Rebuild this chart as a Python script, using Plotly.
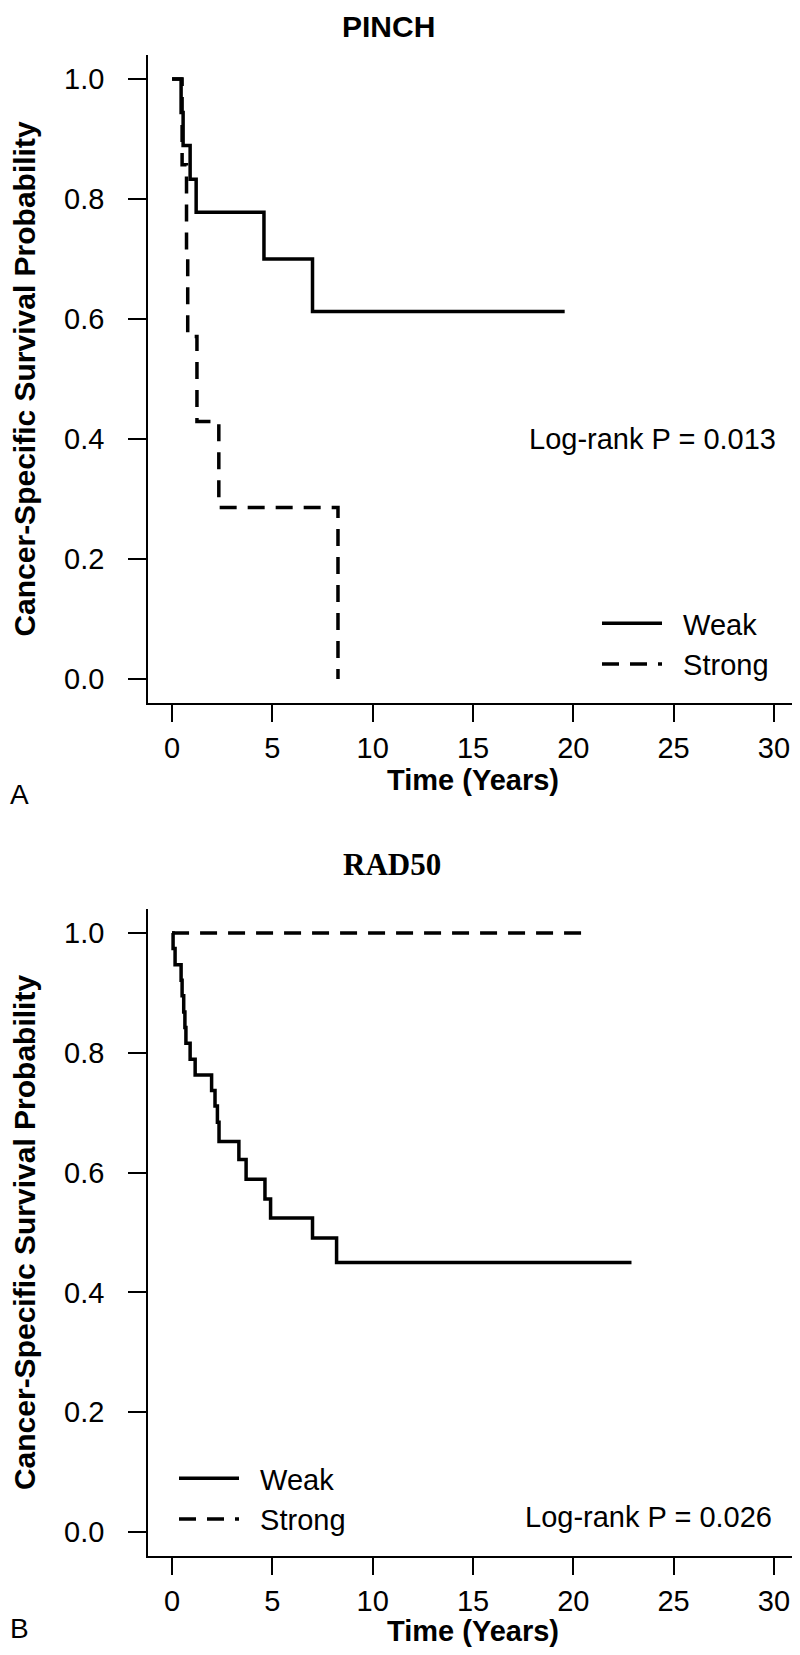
import plotly.graph_objects as go

# ---------------- data ----------------
# Panel A: PINCH
pinch_weak_t = [0.0, 0.45, 0.55, 0.90, 1.20, 4.58, 7.00, 19.57]
pinch_weak_s = [1.0, 0.944, 0.889, 0.833, 0.778, 0.700, 0.6125, 0.6125]
pinch_strong_t = [0.0, 0.50, 0.72, 0.78, 1.24, 2.33, 8.27]
pinch_strong_s = [1.0, 0.857, 0.714, 0.571, 0.429, 0.286, 0.0]
pinch_p = "Log-rank P = 0.013"

# Panel B: RAD50
rad_weak_t = [0.0, 0.05, 0.15, 0.45, 0.50, 0.58, 0.64, 0.69, 0.90, 1.15, 1.97,
              2.14, 2.26, 2.34, 3.33, 3.69, 4.63, 4.91, 7.00, 8.20, 22.9]
rad_weak_s = [1.0, 0.974, 0.947, 0.921, 0.895, 0.868, 0.842, 0.816, 0.789, 0.763, 0.737,
              0.711, 0.684, 0.652, 0.622, 0.589, 0.556, 0.524, 0.491, 0.450, 0.450]
rad_strong_t = [0.0, 20.8]
rad_strong_s = [1.0, 1.0]
rad_p = "Log-rank P = 0.026"

x_ticks = [0, 5, 10, 15, 20, 25, 30]
y_ticks = [0.0, 0.2, 0.4, 0.6, 0.8, 1.0]
y_ticktext = ["0.0", "0.2", "0.4", "0.6", "0.8", "1.0"]
group_names = ["Weak", "Strong"]

# ---------------- figure ----------------
PAGE_W, PAGE_H = 800, 1655
OFF = 8                      # default body margin of the html page
W, H = PAGE_W - OFF, PAGE_H - 2 * OFF
SANS = "Liberation Sans, Arial, Helvetica, sans-serif"
SERIF = "Liberation Serif, Times New Roman, serif"
LW = 3.5
DASH = "17px,11px"
PAD = "\u00a0\u00a0"        # small gap between legend sample and label


def px(X):
    """page pixel x -> paper x"""
    return (X - OFF) / W


def py(Y):
    """page pixel y (from top) -> paper y"""
    return 1 - (Y - OFF) / H


fig = go.Figure()

fig.add_trace(go.Scatter(x=pinch_weak_t, y=pinch_weak_s, mode="lines", line_shape="hv",
                         line=dict(color="black", width=LW), name=PAD + group_names[0],
                         xaxis="x", yaxis="y", legend="legend"))
fig.add_trace(go.Scatter(x=pinch_strong_t, y=pinch_strong_s, mode="lines", line_shape="hv",
                         line=dict(color="black", width=LW, dash=DASH), name=PAD + group_names[1],
                         xaxis="x", yaxis="y", legend="legend"))
fig.add_trace(go.Scatter(x=rad_weak_t, y=rad_weak_s, mode="lines", line_shape="hv",
                         line=dict(color="black", width=LW), name=PAD + group_names[0],
                         xaxis="x2", yaxis="y2", legend="legend2"))
fig.add_trace(go.Scatter(x=rad_strong_t, y=rad_strong_s, mode="lines", line_shape="hv",
                         line=dict(color="black", width=LW, dash=DASH), name=PAD + group_names[1],
                         xaxis="x2", yaxis="y2", legend="legend2"))

xdom = [px(148), min(1.0, px(798))]
xcommon = dict(domain=xdom, range=[-1.2, 31.2], tickvals=x_ticks, ticks="outside",
               ticklen=17, tickwidth=1.5, tickcolor="black", showline=True, linecolor="black",
               linewidth=1.5, showgrid=False, zeroline=False, ticklabelstandoff=1,
               tickfont=dict(family=SANS, size=29, color="black"),
               title=dict(text="<b>Time (Years)</b>", font=dict(family=SANS, size=29, color="black"),
                          standoff=3))
ycommon = dict(range=[-0.04, 1.04], tickvals=y_ticks, ticktext=y_ticktext, ticks="outside",
               ticklen=18, tickwidth=1.5, tickcolor="black", showline=True, linecolor="black",
               linewidth=1.5, showgrid=False, zeroline=False, ticklabelstandoff=18,
               tickfont=dict(family=SANS, size=29, color="black"),
               title=dict(text="<b>Cancer-Specific Survival Probability</b>",
                          font=dict(family=SANS, size=30, color="black"), standoff=36))

legend_common = dict(xanchor="left", yanchor="top",
                     font=dict(family=SANS, size=29, color="black"),
                     bgcolor="rgba(0,0,0,0)", tracegroupgap=0, itemwidth=60)

fig.update_layout(
    width=W, height=H, margin=dict(l=0, r=0, t=0, b=0),
    paper_bgcolor="white", plot_bgcolor="white",
    xaxis=dict(anchor="y", **xcommon),
    yaxis=dict(anchor="x", domain=[py(703), py(55)], **ycommon),
    xaxis2=dict(anchor="y2", **xcommon),
    yaxis2=dict(anchor="x2", domain=[py(1556), py(909)], **ycommon),
    legend=dict(x=px(597), y=py(598), **legend_common),
    legend2=dict(x=px(174), y=py(1453), **legend_common),
    showlegend=True,
)

annots = [
    dict(text=pinch_p, xref="x", yref="y", x=30.2, y=0.40, xanchor="right", yanchor="middle",
         showarrow=False, font=dict(family=SANS, size=29, color="black")),
    dict(text=rad_p, xref="x2", yref="y2", x=30.0, y=0.025, xanchor="right", yanchor="middle",
         showarrow=False, font=dict(family=SANS, size=29, color="black")),
    dict(text="<b>PINCH</b>", xref="paper", yref="paper", x=px(388), y=py(26), xanchor="center",
         yanchor="middle", showarrow=False, font=dict(family=SANS, size=30, color="black")),
    dict(text="<b>RAD50</b>", xref="paper", yref="paper", x=px(392), y=py(864), xanchor="center",
         yanchor="middle", showarrow=False, font=dict(family=SERIF, size=31, color="black")),
    dict(text="A", xref="paper", yref="paper", x=px(19), y=py(794), xanchor="center",
         yanchor="middle", showarrow=False, font=dict(family=SANS, size=28, color="black")),
    dict(text="B", xref="paper", yref="paper", x=px(19), y=py(1628), xanchor="center",
         yanchor="middle", showarrow=False, font=dict(family=SANS, size=28, color="black")),
]
fig.update_layout(annotations=annots)

fig.write_html("out.html")
